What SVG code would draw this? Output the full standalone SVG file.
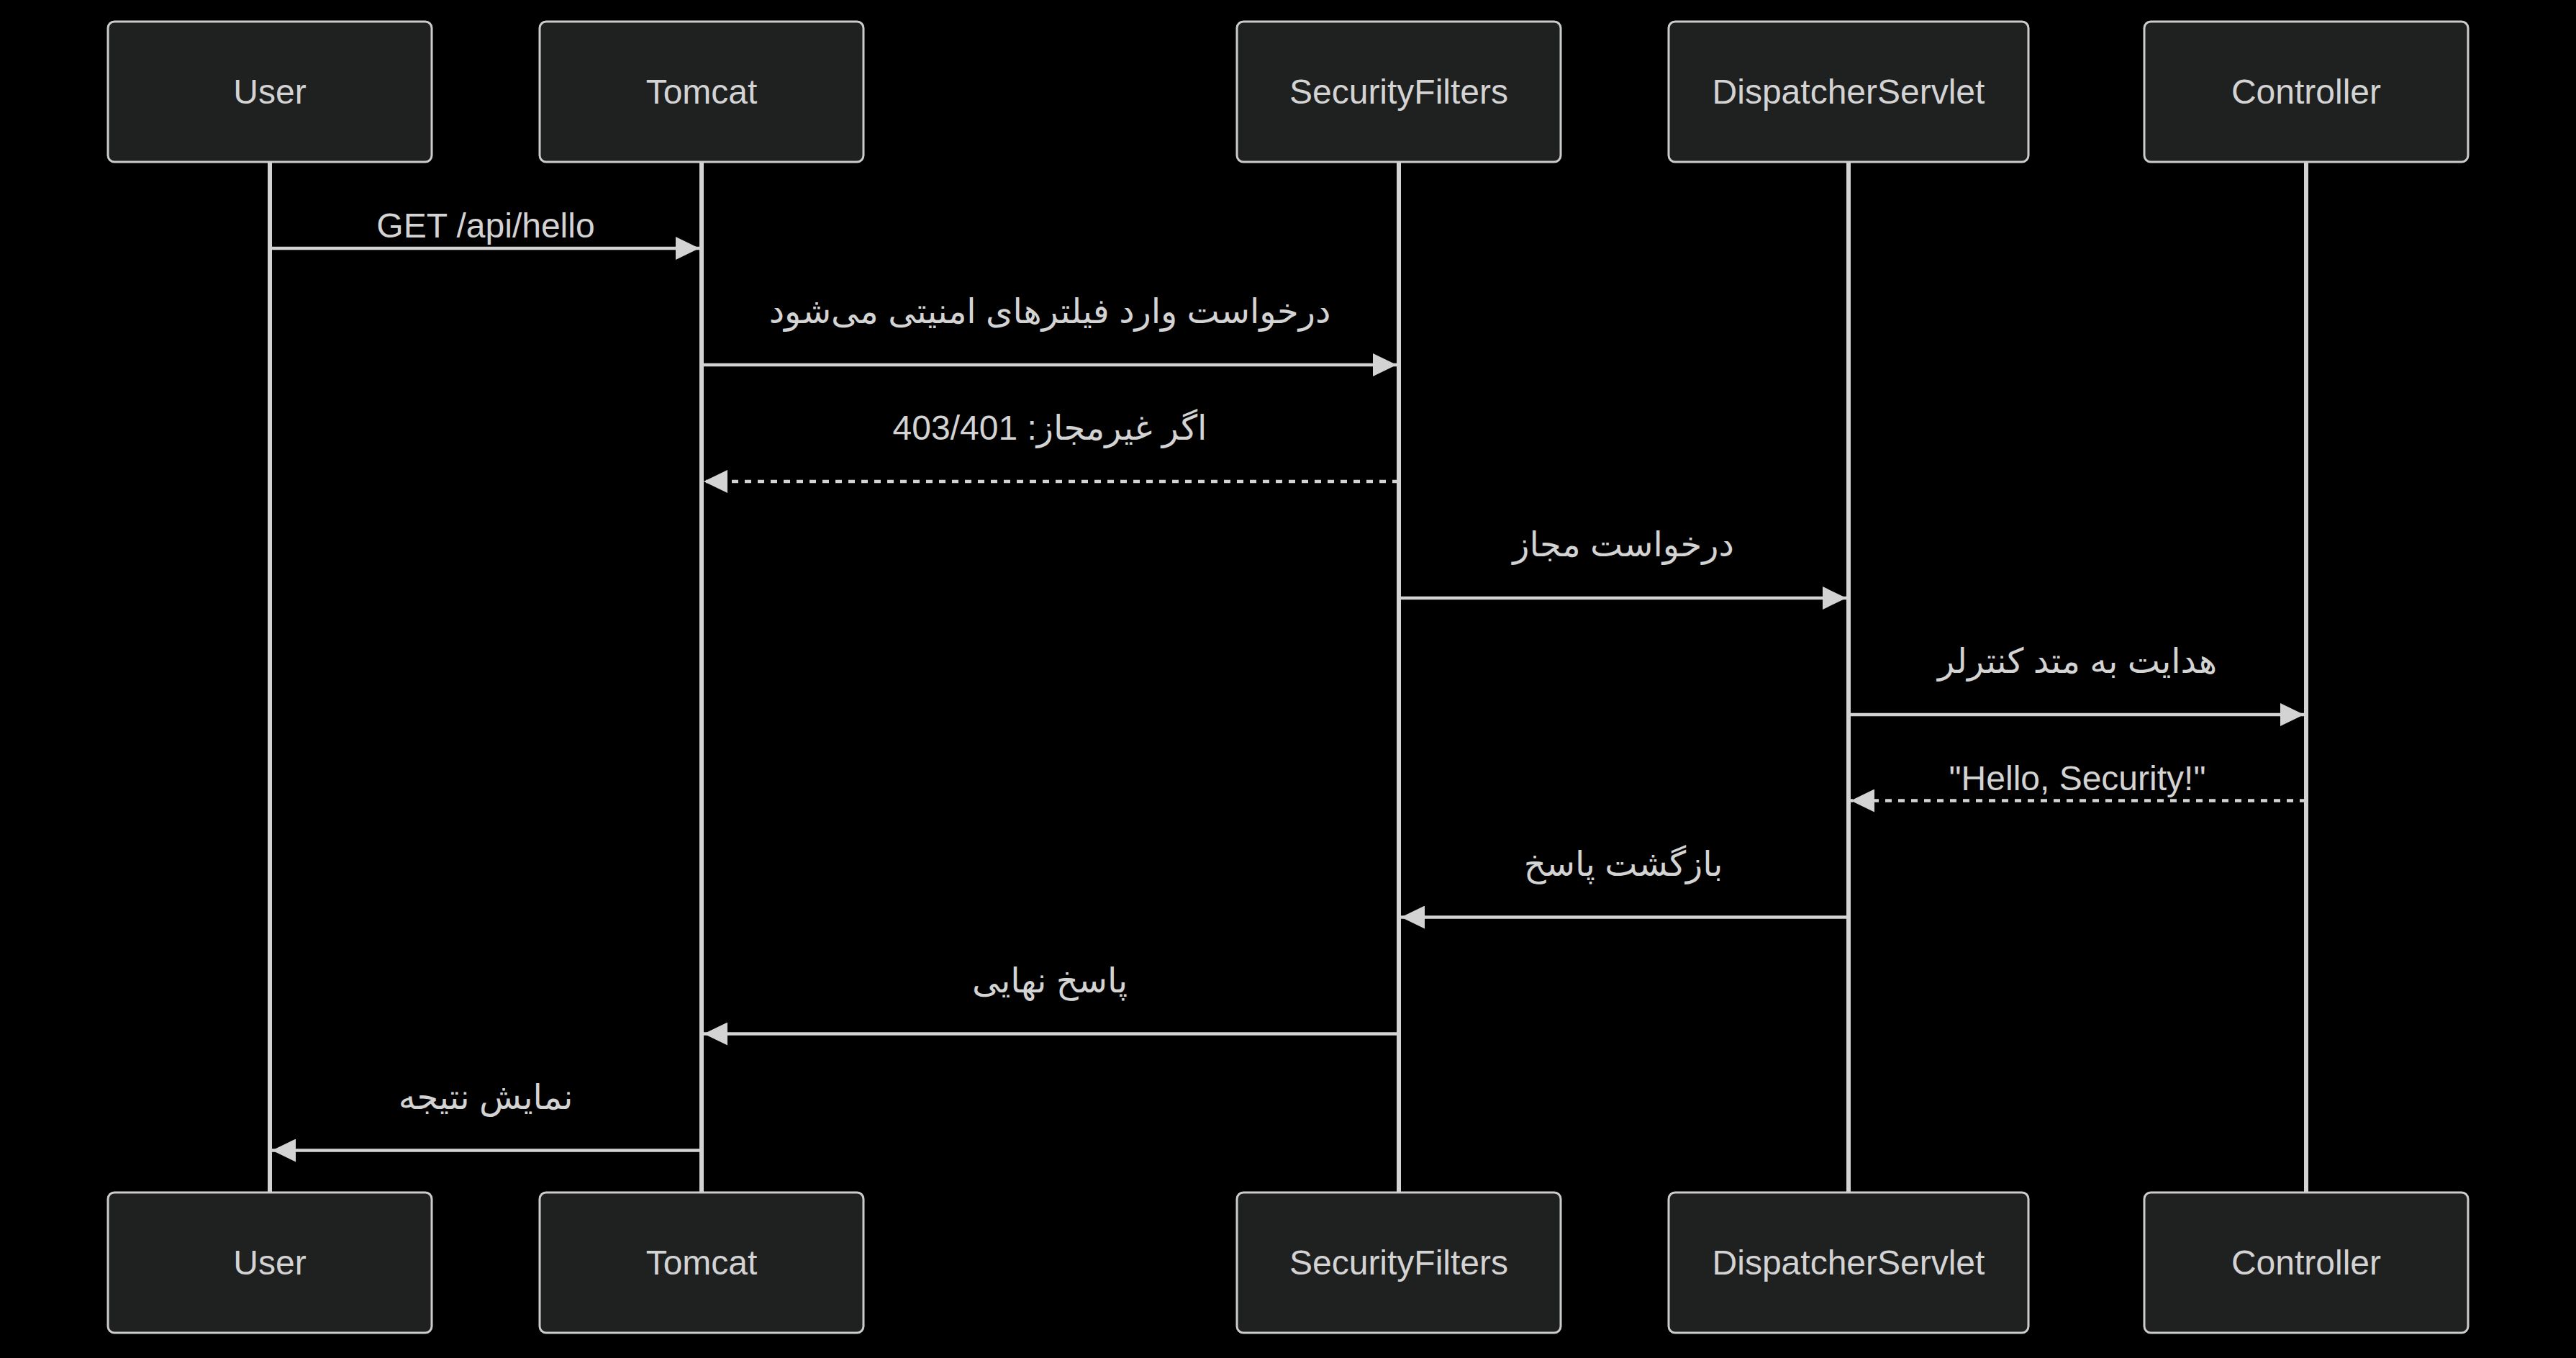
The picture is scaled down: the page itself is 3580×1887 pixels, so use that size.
<svg xmlns="http://www.w3.org/2000/svg" width="3580" height="1887" viewBox="0 0 3580 1887">
<style>
.bg{fill:#000}
.actor{fill:#1f2020;stroke:#cccccc;stroke-width:3}
.atext{fill:#d3d3d3;font-family:"Liberation Sans",Arial,"DejaVu Sans",sans-serif;font-size:48px;text-anchor:middle}
.life{stroke:#d3d3d3;stroke-width:6}
.msg{stroke:#d3d3d3;stroke-width:4.5;fill:none}
.dash{stroke-dasharray:9,9}
.mtext{fill:#d3d3d3;font-family:"Liberation Sans",Arial,"DejaVu Sans",sans-serif;font-size:48px;text-anchor:middle}
</style>
<defs>
<marker id="ah" viewBox="0 0 33 32" refX="33" refY="16" markerWidth="33" markerHeight="32" markerUnits="userSpaceOnUse" orient="auto">
<path d="M0,0 L33,16 L0,32 z" fill="#d3d3d3"/>
</marker>
</defs>
<rect class="bg" x="0" y="0" width="3580" height="1887"/>
<g id="lifelines">
<line class="life" x1="375" y1="225" x2="375" y2="1657"/>
<line class="life" x1="975" y1="225" x2="975" y2="1657"/>
<line class="life" x1="1944" y1="225" x2="1944" y2="1657"/>
<line class="life" x1="2569" y1="225" x2="2569" y2="1657"/>
<line class="life" x1="3205" y1="225" x2="3205" y2="1657"/>
</g>
<g id="actor-user-top"><rect class="actor" x="150" y="30" width="450" height="195" rx="9"/><text class="atext" x="375" y="144">User</text></g>
<g id="actor-tomcat-top"><rect class="actor" x="750" y="30" width="450" height="195" rx="9"/><text class="atext" x="975" y="144">Tomcat</text></g>
<g id="actor-sf-top"><rect class="actor" x="1719" y="30" width="450" height="195" rx="9"/><text class="atext" x="1944" y="144">SecurityFilters</text></g>
<g id="actor-ds-top"><rect class="actor" x="2319" y="30" width="500" height="195" rx="9"/><text class="atext" x="2569" y="144">DispatcherServlet</text></g>
<g id="actor-ctrl-top"><rect class="actor" x="2980" y="30" width="450" height="195" rx="9"/><text class="atext" x="3205" y="144">Controller</text></g>
<g id="actor-user-bottom"><rect class="actor" x="150" y="1657" width="450" height="195" rx="9"/><text class="atext" x="375" y="1771">User</text></g>
<g id="actor-tomcat-bottom"><rect class="actor" x="750" y="1657" width="450" height="195" rx="9"/><text class="atext" x="975" y="1771">Tomcat</text></g>
<g id="actor-sf-bottom"><rect class="actor" x="1719" y="1657" width="450" height="195" rx="9"/><text class="atext" x="1944" y="1771">SecurityFilters</text></g>
<g id="actor-ds-bottom"><rect class="actor" x="2319" y="1657" width="500" height="195" rx="9"/><text class="atext" x="2569" y="1771">DispatcherServlet</text></g>
<g id="actor-ctrl-bottom"><rect class="actor" x="2980" y="1657" width="450" height="195" rx="9"/><text class="atext" x="3205" y="1771">Controller</text></g>
<g id="connectors">
<line class="msg" x1="375" y1="345" x2="972" y2="345" marker-end="url(#ah)"/>
<line class="msg" x1="975" y1="507" x2="1941" y2="507" marker-end="url(#ah)"/>
<line class="msg dash" x1="1944" y1="669" x2="978" y2="669" marker-end="url(#ah)"/>
<line class="msg" x1="1944" y1="831" x2="2566" y2="831" marker-end="url(#ah)"/>
<line class="msg" x1="2569" y1="993" x2="3202" y2="993" marker-end="url(#ah)"/>
<line class="msg dash" x1="3205" y1="1112.5" x2="2572" y2="1112.5" marker-end="url(#ah)"/>
<line class="msg" x1="2569" y1="1274.5" x2="1947" y2="1274.5" marker-end="url(#ah)"/>
<line class="msg" x1="1944" y1="1436.5" x2="978" y2="1436.5" marker-end="url(#ah)"/>
<line class="msg" x1="975" y1="1598.5" x2="378" y2="1598.5" marker-end="url(#ah)"/>
</g>
<g id="labels">
<text class="mtext" x="675" y="330">GET /api/hello</text>
<text class="mtext" x="1459" y="449">درخواست وارد فیلترهای امنیتی می‌شود</text>
<text class="mtext" x="1459" y="611">اگر غیرمجاز: 403/401</text>
<text class="mtext" x="2256" y="773">درخواست مجاز</text>
<text class="mtext" x="2887" y="935">هدایت به متد کنترلر</text>
<text class="mtext" x="2887" y="1098">"Hello, Security!"</text>
<text class="mtext" x="2256" y="1216.5">بازگشت پاسخ</text>
<text class="mtext" x="1459" y="1378.5">پاسخ نهایی</text>
<text class="mtext" x="675" y="1540.5">نمایش نتیجه</text>
</g>
</svg>
